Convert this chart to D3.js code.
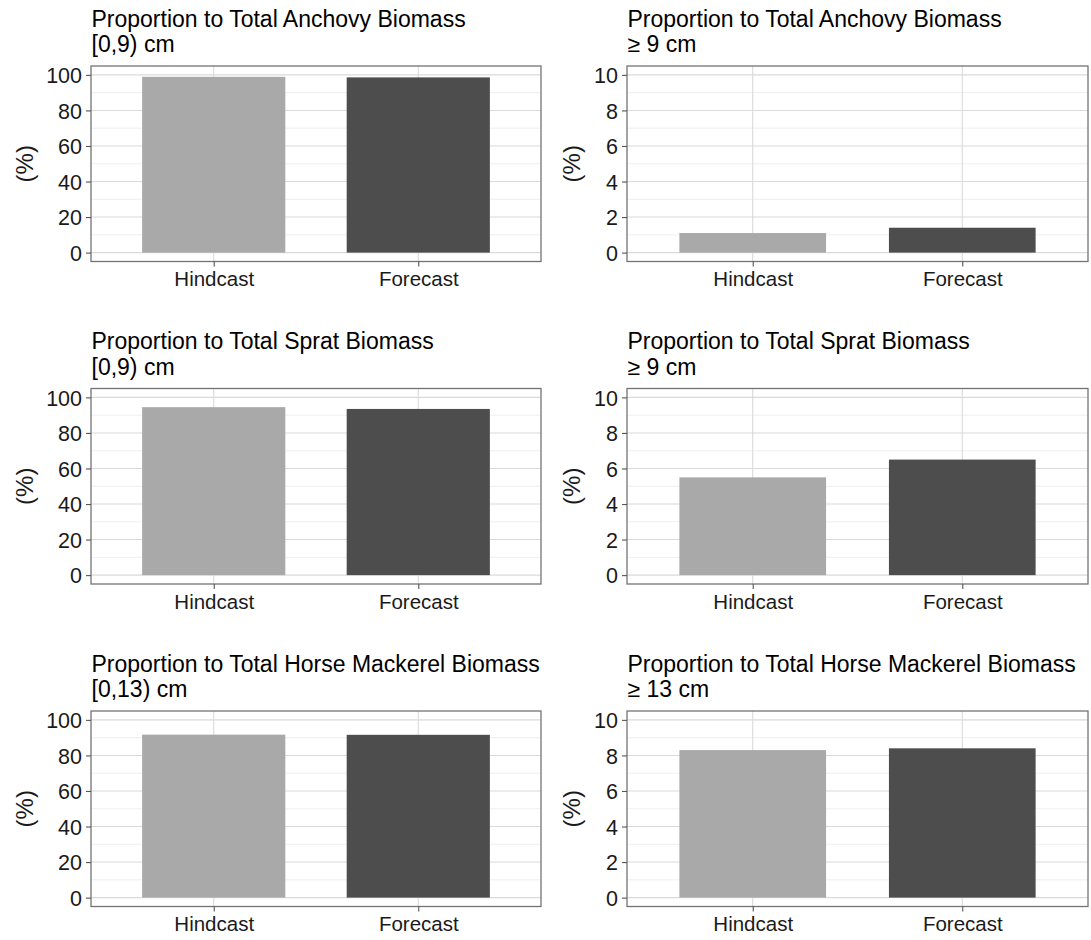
<!DOCTYPE html>
<html>
<head>
<meta charset="utf-8">
<script src="https://cdn.jsdelivr.net/npm/d3@7"></script>
<style>
  html, body { margin: 0; padding: 0; background: #fff; }
  svg text { font-family: "Liberation Sans", Arial, Helvetica, sans-serif; }
</style>
</head>
<body>
<svg id="chart" width="1091" height="940"></svg>
<script>
// Scenarios compared in every panel
const categories = ["Hindcast", "Forecast"];

// One row per species
const species = ["Anchovy", "Sprat", "Horse Mackerel"];
const smallClassLabels = ["[0,9) cm", "[0,9) cm", "[0,13) cm"];
const largeClassLabels = ["\u2265 9 cm", "\u2265 9 cm", "\u2265 13 cm"];

// Share of total biomass (%) for the small size class
const smallHindcast = [98.9, 94.5, 91.7];
const smallForecast = [98.6, 93.5, 91.6];

// Share of total biomass (%) for the large size class
const largeHindcast = [1.1, 5.5, 8.3];
const largeForecast = [1.4, 6.5, 8.4];

// Axis ticks and limits for each column
const smallTicks = [0, 20, 40, 60, 80, 100];
const smallMinor = [10, 30, 50, 70, 90];
const largeTicks = [0, 2, 4, 6, 8, 10];
const largeMinor = [1, 3, 5, 7, 9];
const smallLimit = 100;
const largeLimit = 10;

const fillColors = ["#A9A9A9", "#4D4D4D"];

// Panel geometry
const columns = [
  { x0: 91, x1: 541 },
  { x0: 627, x1: 1088 }
];
const rowTops = [66, 388.5, 711];
const panelH = 195.5;

const svg = d3.select("#chart");

function drawPanel(col, row, title, subtitle, values, ticks, minor, limit) {
  const { x0, x1 } = columns[col];
  const top = rowTops[row];
  const bottom = top + panelH;

  // 5% expansion on the continuous axis
  const pad = limit * 0.05;
  const y = d3.scaleLinear().domain([-pad, limit + pad]).range([bottom, top]);

  // Discrete axis: categories at 1 and 2 with 0.6 expansion on each side
  const xPos = d3.scaleLinear().domain([0.4, categories.length + 0.6]).range([x0, x1]);
  const bandW = xPos(1.7) - xPos(1);

  const g = svg.append("g");

  // minor grid
  g.selectAll(".minor").data(minor).enter().append("line")
    .attr("x1", x0).attr("x2", x1)
    .attr("y1", d => y(d)).attr("y2", d => y(d))
    .attr("stroke", "#EBEBEB").attr("stroke-width", 0.8);

  // major grid
  g.selectAll(".major").data(ticks).enter().append("line")
    .attr("x1", x0).attr("x2", x1)
    .attr("y1", d => y(d)).attr("y2", d => y(d))
    .attr("stroke", "#DADADA").attr("stroke-width", 1.1);

  g.selectAll(".vmajor").data(categories).enter().append("line")
    .attr("x1", (d, i) => xPos(i + 1)).attr("x2", (d, i) => xPos(i + 1))
    .attr("y1", top).attr("y2", bottom)
    .attr("stroke", "#DADADA").attr("stroke-width", 1.1);

  // bars
  g.selectAll(".bar").data(values).enter().append("rect")
    .attr("x", (d, i) => xPos(i + 1) - bandW / 2)
    .attr("width", bandW)
    .attr("y", d => y(d))
    .attr("height", d => y(0) - y(d))
    .attr("fill", (d, i) => fillColors[i]);

  // panel border
  g.append("rect")
    .attr("x", x0).attr("y", top)
    .attr("width", x1 - x0).attr("height", panelH)
    .attr("fill", "none").attr("stroke", "#737373").attr("stroke-width", 1.3);

  // y axis
  const yAxis = d3.axisLeft(y).tickValues(ticks).tickSize(5).tickPadding(4).tickFormat(d3.format("d"));
  const ya = g.append("g").attr("transform", `translate(${x0},0)`).call(yAxis);
  ya.select(".domain").remove();
  ya.selectAll(".tick line").attr("stroke", "#555").attr("stroke-width", 1.1);
  ya.selectAll(".tick text").attr("font-size", 21.5).attr("fill", "#1A1A1A").attr("dy", "0.36em");

  // x axis
  const xBand = d3.scalePoint().domain(categories).range([xPos(1), xPos(2)]);
  const xAxis = d3.axisBottom(xBand).tickSize(5).tickPadding(5);
  const xa = g.append("g").attr("transform", `translate(0,${bottom})`).call(xAxis);
  xa.select(".domain").remove();
  xa.selectAll(".tick line").attr("stroke", "#555").attr("stroke-width", 1.1);
  xa.selectAll(".tick text").attr("font-size", 20.5).attr("fill", "#1A1A1A").attr("dy", "0.71em");

  // y axis title
  const labelX = col === 0 ? 25 : 572;
  g.append("text")
    .attr("transform", `translate(${labelX},${(top + bottom) / 2}) rotate(-90)`)
    .attr("text-anchor", "middle").attr("dy", "0.35em")
    .attr("font-size", 24).attr("fill", "#1A1A1A")
    .text("(%)");

  // two-line title
  g.append("text").attr("x", x0 + 0.5).attr("y", top - 39.5)
    .attr("font-size", 23).attr("fill", "#000").text(title);
  g.append("text").attr("x", x0 + 0.5).attr("y", top - 14)
    .attr("font-size", 23).attr("fill", "#000").text(subtitle);
}

species.forEach((sp, r) => {
  const title = `Proportion to Total ${sp} Biomass`;
  drawPanel(0, r, title, smallClassLabels[r],
    [smallHindcast[r], smallForecast[r]], smallTicks, smallMinor, smallLimit);
  drawPanel(1, r, title, largeClassLabels[r],
    [largeHindcast[r], largeForecast[r]], largeTicks, largeMinor, largeLimit);
});
</script>
</body>
</html>
